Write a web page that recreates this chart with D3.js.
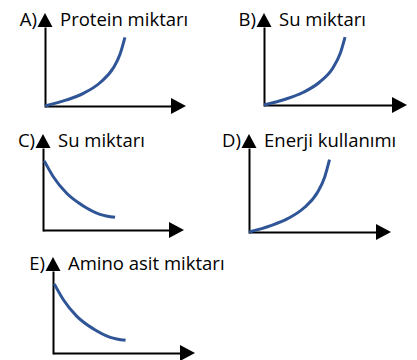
<!DOCTYPE html>
<html lang="tr">

<head>
    <meta charset="UTF-8">
    <title>Grafikler</title>
    <script src="https://d3js.org/d3.v7.min.js"></script>
    <style>
        body { margin: 0; background: #fff; }
        text { font-family: "Open Sans", sans-serif; font-size: 18.5px; fill: #000; }
    </style>
</head>

<body>
    <svg width="417" height="360"></svg>

    <script>
        // option letters and axis titles
        const labels = ['A)', 'B)', 'C)', 'D)', 'E)'];
        const titles = ['Protein miktarı', 'Su miktarı', 'Su miktarı', 'Enerji kullanımı', 'Amino asit miktarı'];
        const shapes = ['rise', 'rise', 'fall', 'rise', 'fall'];

        // curves (axis units 0..10)
        const riseX = [0, 1.54, 2.72, 3.9, 4.84, 5.32, 5.67];
        const riseY = [0, 0.65, 1.36, 2.5, 4.08, 5.56, 7.38];
        const fallX = [0.09, 0.73, 1.68, 2.86, 4.04, 5.11];
        const fallY = [7.2, 5.55, 3.82, 2.5, 1.63, 1.32];

        // where each small chart sits: axis corner, width, height
        const boxes = [
            { ox: 45, oy: 106, w: 141, h: 93 },
            { ox: 264, oy: 105, w: 143, h: 92 },
            { ox: 43, oy: 230, w: 141, h: 96 },
            { ox: 249, oy: 232, w: 142, h: 98 },
            { ox: 53, oy: 353, w: 142, h: 96 }
        ];

        const curves = {
            rise: riseX.map((x, i) => [x, riseY[i]]),
            fall: fallX.map((x, i) => [x, fallY[i]])
        };

        const svg = d3.select('svg');
        const arrow = 15;

        boxes.forEach((b, i) => {
            const x = d3.scaleLinear().domain([0, 10]).range([b.ox, b.ox + b.w]);
            const y = d3.scaleLinear().domain([0, 10]).range([b.oy, b.oy - b.h]);
            const g = svg.append('g');

            // x axis (line stops at the arrow base)
            const xa = g.append('g')
                .attr('transform', `translate(0,${b.oy})`)
                .call(d3.axisBottom(x.copy().range([b.ox, b.ox + b.w - arrow + 1])).tickValues([]).tickSizeOuter(0));
            xa.select('.domain').attr('stroke', '#000').attr('stroke-width', 2);

            // y axis
            const ya = g.append('g')
                .attr('transform', `translate(${b.ox},0)`)
                .call(d3.axisLeft(y.copy().range([b.oy + 1, b.oy - b.h + arrow - 1])).tickValues([]).tickSizeOuter(0));
            ya.select('.domain').attr('stroke', '#000').attr('stroke-width', 2);

            // arrow heads
            const xt = x(10), yt = y(10);
            g.append('path')
                .attr('d', `M${xt},${b.oy} L${xt - arrow},${b.oy - 8} L${xt - arrow},${b.oy + 8} Z`)
                .attr('fill', '#000');
            g.append('path')
                .attr('d', `M${b.ox},${yt} L${b.ox - 7.5},${yt + arrow - 1} L${b.ox + 7.5},${yt + arrow - 1} Z`)
                .attr('fill', '#000');

            // curve
            const line = d3.line()
                .x(d => x(d[0]))
                .y(d => y(d[1]))
                .curve(d3.curveMonotoneX);
            g.append('path')
                .datum(curves[shapes[i]])
                .attr('d', line)
                .attr('fill', 'none')
                .attr('stroke', '#2f5597')
                .attr('stroke-width', 3);

            // texts
            g.append('text')
                .attr('x', b.ox - 8)
                .attr('y', yt + 13)
                .attr('text-anchor', 'end')
                .text(labels[i]);
            g.append('text')
                .attr('x', b.ox + 15)
                .attr('y', yt + 13)
                .text(titles[i]);
        });
    </script>
</body>

</html>
